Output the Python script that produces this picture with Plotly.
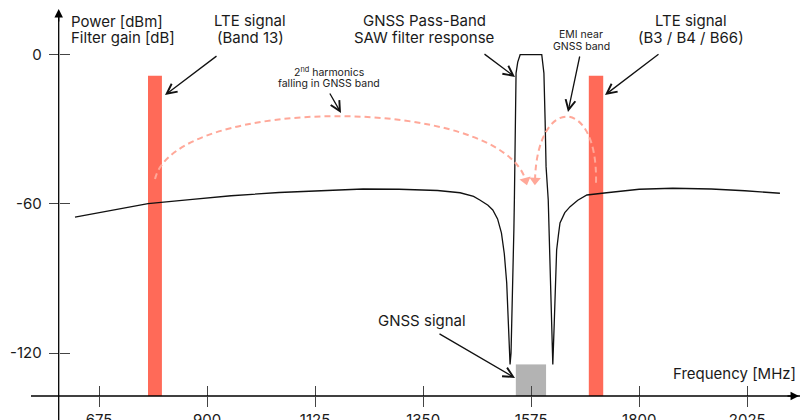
import plotly.graph_objects as go

# ---------------- data ----------------
x_ticks = [675, 900, 1125, 1350, 1575, 1800, 2025]
y_ticks = [0, -60, -120]
y_ticktext = ["0", "-60", "-120"]

# LTE signals (center MHz, width MHz, top dBm)
lte_center = [791.5, 1710]
lte_width = [29, 30]
lte_top = [-8.5, -8.5]

# GNSS signal
gnss_center = [1574.5]
gnss_width = [63]
gnss_top = [-124.5]

# SAW filter response (MHz, dB)
filt_f = [625, 700, 777, 864, 950, 1050, 1150, 1225, 1300, 1380, 1427, 1455, 1468,
          1485, 1495, 1505, 1513, 1519, 1524, 1528, 1531,
          1533, 1536, 1539, 1540, 1541.5, 1543.5, 1547, 1552,
          1597, 1601.5, 1604, 1606, 1610.5, 1615, 1620,
          1623, 1626, 1628, 1632, 1635, 1645, 1656, 1672, 1691, 1732, 1800, 1870,
          1950, 2020, 2093]
filt_db = [-65.3, -62.6, -59.9, -58.3, -56.7, -55.4, -54.5, -54.0, -54.1, -54.6, -55.5, -57.0, -58.4,
           -60.5, -62.4, -66.0, -71.6, -80.0, -91.7, -108.0, -124.5,
           -120, -100, -70, -58.4, -26.2, -7.4, -3.0, 0,
           0, -7.4, -26.2, -45, -58.4, -95, -124.5,
           -108, -92, -78.5, -72, -67.6, -63.5, -61.1, -58.5, -56.4, -55.5, -54.1, -53.7,
           -54.0, -54.7, -55.7]

AX_BOTTOM = -137.2
X_RANGE = [468.8, 2134.8]
Y_RANGE = [AX_BOTTOM, 21.98]

W, H = 800, 420
BAR_RED = "#FF6A58"
ARC = "#FFA899"
FONT = "Inter"


def px(xp, yp):
    return xp / W, 1 - yp / H


fig = go.Figure()

fig.add_trace(go.Bar(x=lte_center, y=[t - AX_BOTTOM for t in lte_top], base=[AX_BOTTOM] * 2,
                     width=lte_width, marker=dict(color=BAR_RED, line=dict(width=0)),
                     hoverinfo="skip", showlegend=False))
fig.add_trace(go.Bar(x=gnss_center, y=[t - AX_BOTTOM for t in gnss_top], base=[AX_BOTTOM],
                     width=gnss_width, marker=dict(color="#B3B3B3", line=dict(width=0)),
                     hoverinfo="skip", showlegend=False))
fig.add_trace(go.Scatter(x=filt_f, y=filt_db, mode="lines",
                         line=dict(color="#111111", width=1.3), hoverinfo="skip", showlegend=False))

# dashed arcs (cubic Bezier in data coords)
arc1 = [(791.6, -50.0), (833.3, -16.2), (1510.1, -16.2), (1563.5, -50.5)]
arc2 = [(1710.0, -51.5), (1714.2, -16.2), (1587.1, -16.2), (1583.0, -50.5)]
for a in (arc1, arc2):
    path = "M {},{} C {},{} {},{} {},{}".format(*[v for p in a for v in p])
    fig.add_shape(type="path", path=path, xref="x", yref="y",
                  line=dict(color=ARC, width=2, dash="6px,4px"), layer="above")
fig.add_trace(go.Scatter(x=[arc1[3][0], arc2[3][0]], y=[arc1[3][1], arc2[3][1]], mode="markers",
                         marker=dict(symbol="triangle-down", size=10, color=ARC, angle=[-15, 2],
                                     line=dict(width=0)),
                         hoverinfo="skip", showlegend=False))

# overlay axes for ticks crossing the axis lines
fig.add_trace(go.Scatter(x=[None], y=[None], xaxis="x2", yaxis="y2", showlegend=False))

tickfont = dict(family=FONT, size=15, color="#1a1a1a")
fig.update_layout(
    template="none",
    width=W, height=H, margin=dict(l=0, r=0, t=0, b=0, pad=0, autoexpand=False),
    paper_bgcolor="white", plot_bgcolor="white", barmode="overlay", showlegend=False,
    xaxis=dict(domain=[0, 1], range=X_RANGE, tickvals=x_ticks, ticktext=[str(v) for v in x_ticks],
               ticks="outside", ticklen=10, tickwidth=1.3, tickcolor="#444",
               showline=False, showgrid=False, zeroline=False, tickfont=tickfont,
               anchor="y", automargin=False),
    yaxis=dict(domain=[1 - 396 / H, 1], range=Y_RANGE, tickvals=y_ticks, ticktext=y_ticktext,
               ticks="outside", ticklen=10, tickwidth=1.3, tickcolor="#444",
               showline=False, showgrid=False, zeroline=False, tickfont=tickfont,
               anchor="free", position=58.7 / W, ticklabelstandoff=4, automargin=False),
    xaxis2=dict(overlaying="x", matches="x", anchor="y", side="bottom", tickvals=x_ticks,
                ticks="inside", ticklen=10, tickwidth=1.3, tickcolor="#444", showticklabels=False,
                showline=False, showgrid=False, zeroline=False, automargin=False),
    yaxis2=dict(overlaying="y", matches="y", anchor="free", position=58.7 / W, side="left",
                tickvals=y_ticks, ticks="inside", ticklen=10, tickwidth=1.3, tickcolor="#444",
                showticklabels=False, showline=False, showgrid=False, zeroline=False,
                automargin=False),
)

# axis lines
x0, y0 = px(31, 396)
fig.add_shape(type="line", xref="paper", yref="paper", x0=x0, y0=y0, x1=1, y1=y0,
              line=dict(color="black", width=1.3))
xa, _ = px(58.7, 0)
fig.add_shape(type="line", xref="paper", yref="paper", x0=xa, y0=0, x1=xa, y1=px(0, 12)[1],
              line=dict(color="black", width=1.3))

annotations = []
# axis arrowheads
annotations.append(dict(x=1, y=y0, xref="paper", yref="paper", ax=-14, ay=0, axref="pixel", ayref="pixel",
                        text="", showarrow=True, arrowhead=2, arrowsize=1.3, arrowwidth=1.3,
                        arrowcolor="black", standoff=0))
annotations.append(dict(x=xa, y=px(0, 9)[1], xref="paper", yref="paper", ax=0, ay=14, axref="pixel",
                        ayref="pixel", text="", showarrow=True, arrowhead=2, arrowsize=1.3,
                        arrowwidth=1.3, arrowcolor="black", standoff=0))


def label(text, xp, yp, size=15, xanchor="center"):
    x, y = px(xp, yp)
    annotations.append(dict(x=x, y=y, xref="paper", yref="paper", text=text, showarrow=False,
                            xanchor=xanchor, yanchor="middle",
                            font=dict(family=FONT, size=size, color="#1a1a1a")))


def arrow(tail, tip):
    x, y = px(*tip)
    annotations.append(dict(x=x, y=y, xref="paper", yref="paper", ax=tail[0] - tip[0],
                            ay=tail[1] - tip[1], axref="pixel", ayref="pixel", text="",
                            showarrow=True, arrowhead=5, arrowsize=1.5, arrowwidth=1.3,
                            arrowcolor="#111111", standoff=0))


label("Power [dBm]", 69, 21.5, xanchor="left")
label("Filter gain [dB]", 69, 37.5, xanchor="left")
label("LTE signal", 250, 20.5)
label("(Band 13)", 250, 37.5)
label("GNSS Pass-Band", 424, 20.5)
label("SAW filter response", 424, 37.5)
label("LTE signal", 691, 20.5)
label("(B3 / B4 / B66)", 691, 37.5)
label("EMI near", 581, 34, size=10.5)
label("GNSS band", 581, 46, size=10.5)
label("2<sup>nd</sup> harmonics", 329, 72, size=10.5)
label("falling in GNSS band", 329, 84, size=10.5)
label("GNSS signal", 422.5, 320)
label("Frequency [MHz]", 798, 373, xanchor="right")

arrow((218, 55), (165, 95))
arrow((483, 53), (515, 77))
arrow((580, 55), (568, 112))
arrow((660, 53), (605, 95))
arrow((329, 92), (341, 113))
arrow((438, 333), (515, 378))

fig.update_layout(annotations=annotations)

fig.write_html("out.html", config={"displayModeBar": False},
               post_script="document.body.style.margin='0';document.body.style.padding='0';")
